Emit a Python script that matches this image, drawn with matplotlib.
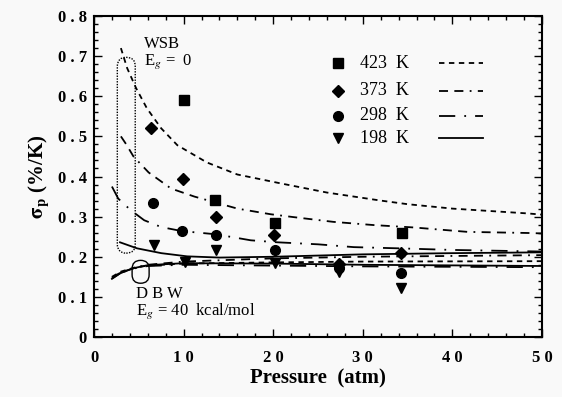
import numpy as np
import matplotlib
matplotlib.use('Agg')
import matplotlib.pyplot as plt
from matplotlib.patches import FancyBboxPatch
from matplotlib.ticker import FixedLocator, FixedFormatter, MultipleLocator

plt.rcParams['font.family'] = ['Liberation Serif', 'DejaVu Serif']
plt.rcParams['mathtext.fontset'] = 'stix'

temps = ['423  K', '373  K', '298  K', '198  K']
markers = ['s', 'D', 'o', 'v']
styles = [(0, (3, 2.5)), (0, (5, 3.5, 5, 3.5, 1, 3.5)), (0, (9, 5, 1, 5)), '-']

# measured points (pressure atm, sigma %/K)
pts_x = [
    [10.0, 13.5, 20.2, 34.4],
    [6.4, 9.9, 13.6, 20.1, 27.3, 34.3],
    [6.6, 9.8, 13.6, 20.2, 27.3, 34.3],
    [6.7, 10.1, 13.6, 20.2, 27.3, 34.3],
]
pts_y = [
    [0.59, 0.342, 0.284, 0.259],
    [0.52, 0.395, 0.298, 0.254, 0.182, 0.209],
    [0.335, 0.264, 0.254, 0.216, 0.172, 0.159],
    [0.229, 0.186, 0.216, 0.184, 0.163, 0.122],
]

# WSB model curves (Eg = 0)
wsb_x = [
    [3.0, 3.7, 4.7, 5.9, 7.5, 9.3, 12.6, 16.0, 20.8, 26.0, 32.0, 35.0, 40.0, 48.4, 50.0],
    [3.0, 3.6, 4.4, 6.1, 8.6, 11.2, 16.0, 19.7, 22.2, 26.7, 31.2, 35.7, 41.7, 49.0, 50.0],
    [2.0, 2.7, 4.1, 5.6, 7.5, 9.8, 13.6, 17.5, 20.5, 25.0, 29.0, 34.0, 40.0, 50.0],
    [2.9, 4.8, 7.5, 10.4, 14.0, 20.0, 30.0, 40.0, 50.0],
]
wsb_y = [
    [0.72, 0.67, 0.62, 0.57, 0.52, 0.478, 0.435, 0.405, 0.383, 0.36, 0.34, 0.331, 0.32, 0.308, 0.305],
    [0.50, 0.48, 0.45, 0.41, 0.37, 0.35, 0.32, 0.306, 0.299, 0.287, 0.279, 0.273, 0.262, 0.259, 0.258],
    [0.375, 0.345, 0.316, 0.291, 0.274, 0.264, 0.256, 0.241, 0.236, 0.231, 0.224, 0.221, 0.217, 0.213],
    [0.236, 0.221, 0.209, 0.201, 0.198, 0.200, 0.206, 0.209, 0.211],
]

# DBW model curves (Eg = 40 kcal/mol)
dbw_x = [
    [2.0, 3.0, 4.5, 6.0, 10.0, 20.0, 30.0, 50.0],
    [2.0, 3.0, 4.5, 6.0, 10.0, 20.0, 30.0, 50.0],
    [2.0, 3.0, 4.5, 6.0, 10.0, 20.0, 30.0, 50.0],
    [2.0, 3.0, 4.5, 6.0, 10.0, 20.0, 30.0, 50.0],
]
dbw_y = [
    [0.150, 0.163, 0.173, 0.178, 0.183, 0.186, 0.188, 0.189],
    [0.148, 0.161, 0.172, 0.180, 0.188, 0.196, 0.200, 0.204],
    [0.146, 0.160, 0.171, 0.177, 0.180, 0.178, 0.176, 0.174],
    [0.145, 0.160, 0.172, 0.179, 0.184, 0.183, 0.180, 0.177],
]

xticks = [0, 10, 20, 30, 40, 50]
xlabels = ['0', '1 0', '2 0', '3 0', '4 0', '5 0']
yticks = [0, 0.1, 0.2, 0.3, 0.4, 0.5, 0.6, 0.7, 0.8]
ylabels = ['0', '0 . 1', '0 . 2', '0 . 3', '0 . 4', '0 . 5', '0 . 6', '0 . 7', '0 . 8']

fig = plt.figure(figsize=(5.62, 3.97), dpi=100)
fig.patch.set_facecolor('#f9f9f9')
ax = fig.add_axes([0.1673, 0.1511, 0.7971, 0.8086])
ax.set_facecolor('#f9f9f9')

for i in range(4):
    ax.plot(wsb_x[i], wsb_y[i], color='black', lw=1.3, linestyle=styles[i])
    ax.plot(dbw_x[i], dbw_y[i], color='black', lw=1.3, linestyle=styles[i])
    ms = 7 if markers[i] != 'D' else 6
    ax.plot(pts_x[i], pts_y[i], linestyle='none', marker=markers[i], color='black', ms=ms)

# hand-drawn loops around the low-pressure ends
asp = 0.8 / 321.0 * 447.0 / 50.0
ax.add_patch(FancyBboxPatch((2.6, 0.209), 2.0, 0.697 - 0.209,
                            boxstyle='round,pad=0,rounding_size=1.0',
                            mutation_aspect=asp, fill=False, ec='black',
                            lw=1.0, linestyle=(0, (1, 1))))
ax.add_patch(FancyBboxPatch((4.25, 0.134), 1.9, 0.191 - 0.134,
                            boxstyle='round,pad=0,rounding_size=0.95',
                            mutation_aspect=asp, fill=False, ec='black', lw=1.0))

ax.text(5.6, 0.75, 'WSB\nE$_g$ =  0', fontsize=12, va='top', linespacing=1.0)
ax.text(4.7, 0.128, 'D B W\nE$_g$ = 40  kcal/mol', fontsize=12, va='top', linespacing=1.0)

# key
key_y = [0.682, 0.614, 0.552, 0.495]
for i in range(4):
    ms = 7 if markers[i] != 'D' else 6
    ax.plot([27.2], [key_y[i]], marker=markers[i], color='black', ms=ms, linestyle='none')
    ax.text(29.7, key_y[i], temps[i], fontsize=13, va='center')
    ax.plot([38.5, 43.4], [key_y[i], key_y[i]], color='black', lw=1.3, linestyle=styles[i])

ax.set_xlim(0, 50)
ax.set_ylim(0, 0.8)
ax.xaxis.set_major_locator(FixedLocator(xticks))
ax.xaxis.set_major_formatter(FixedFormatter(xlabels))
ax.yaxis.set_major_locator(FixedLocator(yticks))
ax.yaxis.set_major_formatter(FixedFormatter(ylabels))
ax.xaxis.set_minor_locator(MultipleLocator(2))
ax.yaxis.set_minor_locator(MultipleLocator(0.02))
ax.tick_params(which='both', direction='in', top=True, right=True, width=1.0)
ax.tick_params(which='major', length=6, labelsize=12)
ax.tick_params(axis='x', which='major', pad=9)
ax.tick_params(axis='y', which='major', pad=5)
ax.tick_params(which='minor', length=3)
for lab in ax.get_xticklabels() + ax.get_yticklabels():
    lab.set_fontweight('bold')
for sp in ax.spines.values():
    sp.set_linewidth(1.5)

ax.set_xlabel('Pressure  (atm)', fontsize=15, fontweight='bold', labelpad=2)
ax.set_ylabel(r'$\mathbf{\sigma_p}$ (%/K)', fontsize=15, fontweight='bold', labelpad=4)

fig.savefig('out.png', dpi=100, facecolor=fig.get_facecolor())
